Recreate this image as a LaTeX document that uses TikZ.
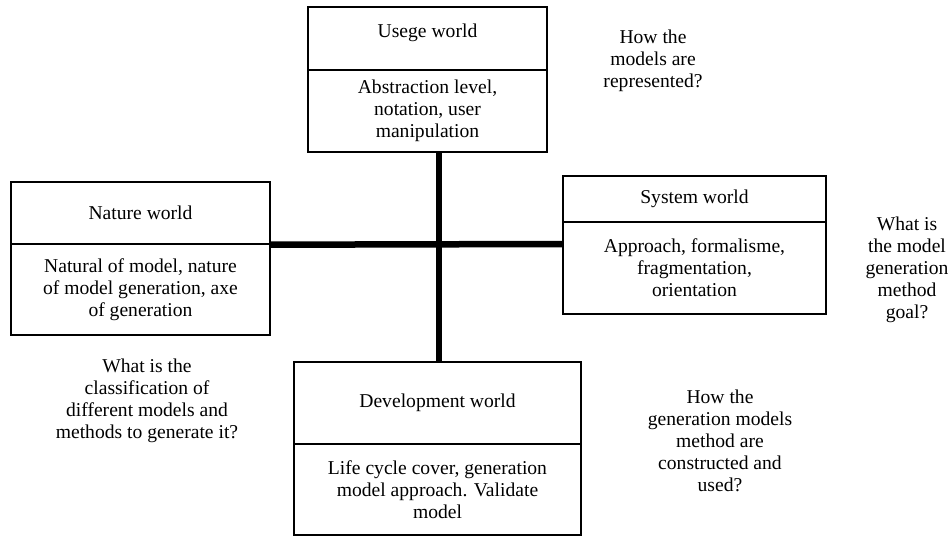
\documentclass[tikz,border=0pt]{standalone}
\usepackage{fontspec}
\setmainfont{Liberation Serif}
\begin{document}
\begin{tikzpicture}[x=1pt,y=-1pt,
  font=\fontsize{19.6}{22}\selectfont,
  cell/.style={draw, line width=1.4pt, inner sep=0pt, align=center},
  note/.style={align=center, inner sep=0pt},
  bar/.style={line width=6.5pt}]
\useasboundingbox[fill=white] (0,0) rectangle (951,538);

% Usage world
\node[cell, minimum width=239pt, minimum height=63pt] (usageT) at (427.5,38.5) {};
\node[note] (usageTitle) at (427.5,33) {Usege world};
\node[cell, minimum width=239pt, minimum height=82pt] (usageB) at (427.5,111)
  {Abstraction level,\\ notation, user\\ manipulation};

% Nature world
\node[cell, minimum width=259pt, minimum height=62pt] (natureT) at (140.5,213) {Nature world};
\node[cell, minimum width=259pt, minimum height=91pt] (natureB) at (140.5,289.5)
  {Natural of model, nature\\ of model generation, axe\\ of generation};

% System world
\node[cell, minimum width=263pt, minimum height=46pt] (systemT) at (694.5,199) {System world};
\node[cell, minimum width=263pt, minimum height=92pt] (systemB) at (694.5,268)
  {Approach, formalisme,\\ fragmentation,\\ orientation};

% Development world
\node[cell, minimum width=287pt, minimum height=82pt] (devT) at (437.5,403) {Development world};
\node[cell, minimum width=287pt, minimum height=91pt] (devB) at (437.5,489.5)
  {Life cycle cover, generation\\ model approach. Validate\\ model};

% The cross joining the four worlds
\coordinate (hub) at (439,244);
\draw[bar] (hub |- usageB.south) -- (hub |- devT.north);
\draw[bar] (natureT.south east) -- (hub -| systemB.west);

% Questions
\node[note] (q1) at (653,61) {How the\\ models are\\ represented?};
\node[note] (q2) at (907,270) {What is\\ the model\\ generation\\ method\\ goal?};
\node[note] (q3) at (147,401) {What is the\\ classification of\\ different models and\\ methods to generate it?};
\node[note] (q4) at (720,441) {How the\\ generation models\\ method are\\ constructed and\\ used?};
\end{tikzpicture}
\end{document}
